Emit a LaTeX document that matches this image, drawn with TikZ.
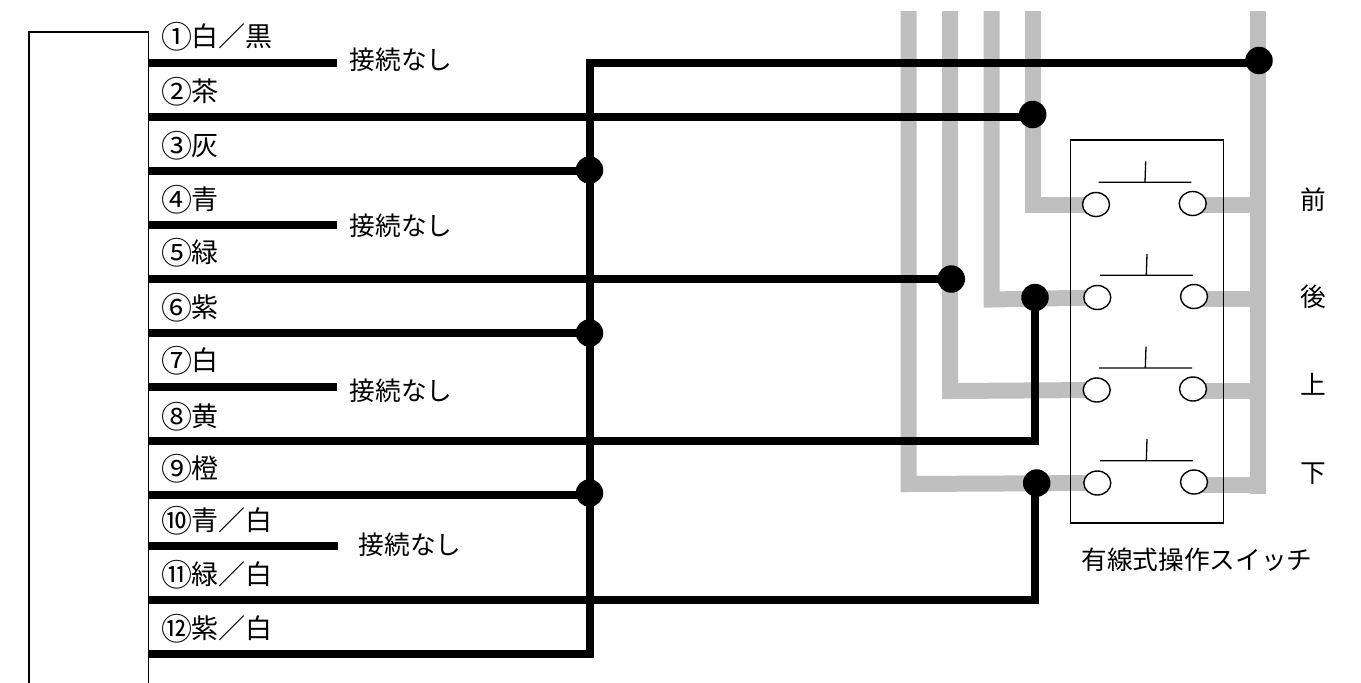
\documentclass[tikz,border=0pt]{standalone}
\usepackage{fontspec}
\setmainfont{Noto Sans CJK JP}
\definecolor{busgrey}{HTML}{BFBFBF}
\newcommand{\circnum}[1]{\makebox[29pt][c]{\raisebox{-1.8pt}{\fontsize{31}{31}\selectfont #1}}}
\tikzset{
  x=1pt,y=-1pt,
  thin frame/.style={draw=black,line width=1.3pt},
  grey wire/.style={draw=busgrey,line width=16pt,line join=miter},
  black wire/.style={draw=black,line width=8pt,line join=miter},
  junction/.style={circle,fill=black,inner sep=0pt,minimum size=27.5pt},
  terminal/.style={ellipse,draw=black,fill=white,line width=1.4pt,inner sep=0pt,minimum width=27pt,minimum height=24pt},
  contact/.style={draw=black,line width=1.3pt},
  wire label/.style={anchor=west,inner sep=0pt,font=\fontsize{27}{30}\selectfont},
  note label/.style={anchor=west,inner sep=0pt,font=\fontsize{25.7}{30}\selectfont},
}
\usetikzlibrary{shapes.geometric}
\begin{document}
\begin{tikzpicture}
\useasboundingbox (0,0) rectangle (1361,683);
% connector body (open at the bottom)
\coordinate (bodyBL) at (29,683);
\coordinate (bodyTL) at (29,32);
\coordinate (bodyTR) at (148.5,32);
\coordinate (bodyBR) at (148.5,683);
\draw[thin frame] (bodyBL) -- (bodyTL) -- (bodyTR) -- (bodyBR);
% switch terminals (positions first, drawn later)
\coordinate (aL) at (1096,204.5);   \coordinate (aR) at (1192.7,203.5);
\coordinate (bL) at (1097.3,297.5); \coordinate (bR) at (1194,296.5);
\coordinate (cL) at (1096.7,390);   \coordinate (cR) at (1193,389);
\coordinate (dL) at (1097.3,483);   \coordinate (dR) at (1194,482);
% grey buses
\coordinate (g1) at (908.5,11); \coordinate (g1c) at (908.5,484);
\coordinate (g2) at (950,11);   \coordinate (g2c) at (950,391);
\coordinate (g3) at (991.5,11); \coordinate (g3c) at (991.5,299.5);
\coordinate (g4) at (1033,11);  \coordinate (g4c) at (1033,204.5);
\coordinate (g5) at (1258,11);  \coordinate (g5b) at (1258,493.5);
\draw[grey wire] (g1) -- (g1c) -- (dL);
\draw[grey wire] (g2) -- (g2c) -- (cL);
\draw[grey wire] (g3) -- (g3c) -- (bL);
\draw[grey wire] (g4) -- (g4c) -- (aL);
\draw[grey wire] (g5) -- (g5b);
\coordinate (ra) at (1258,204.5); \coordinate (rb) at (1258,298.5);
\coordinate (rc) at (1258,391);   \coordinate (rd) at (1258,485);
\draw[grey wire] (aR |- ra) -- (ra);
\draw[grey wire] (bR |- rb) -- (rb);
\draw[grey wire] (cR |- rc) -- (rc);
\draw[grey wire] (dR |- rd) -- (rd);
% switch box
\node[thin frame,fill=none,inner sep=0pt,minimum width=152.5pt,minimum height=383pt] (swbox) at (1147,331.5) {};
% switches
\node[terminal] (ta1) at (aL) {}; \node[terminal] (ta2) at (aR) {};
\node[terminal] (tb1) at (bL) {}; \node[terminal] (tb2) at (bR) {};
\node[terminal] (tc1) at (cL) {}; \node[terminal] (tc2) at (cR) {};
\node[terminal] (td1) at (dL) {}; \node[terminal] (td2) at (dR) {};
\coordinate (ba1) at (1098.7,182.3); \coordinate (ba2) at (1191.3,182.3); \coordinate (sa1) at (1145,182.3); \coordinate (sa2) at (1145.7,161.3);
\coordinate (bb1) at (1100,275.3);   \coordinate (bb2) at (1193,275.3);   \coordinate (sb1) at (1146.3,275.3); \coordinate (sb2) at (1147,254);
\coordinate (bc1) at (1099,368);     \coordinate (bc2) at (1192,368);     \coordinate (sc1) at (1145.3,368);   \coordinate (sc2) at (1146,346.7);
\coordinate (bd1) at (1100,460.7);   \coordinate (bd2) at (1193,460.7);   \coordinate (sd1) at (1146.3,460.7); \coordinate (sd2) at (1147,439);
\draw[contact] (ba1) -- (ba2) (sa1) -- (sa2);
\draw[contact] (bb1) -- (bb2) (sb1) -- (sb2);
\draw[contact] (bc1) -- (bc2) (sc1) -- (sc2);
\draw[contact] (bd1) -- (bd2) (sd1) -- (sd2);
% junctions
\node[junction] (j1) at (1259,60.5) {};
\node[junction] (j2) at (1032.7,114.5) {};
\node[junction] (j5) at (951.3,279) {};
\node[junction] (j8) at (1035,297.5) {};
\node[junction] (j11) at (1036.7,483) {};
\node[junction] (j3) at (589.5,170) {};
\node[junction] (j6) at (589.5,333) {};
\node[junction] (j9) at (589.5,493) {};
% wire start points on the connector body
\coordinate (w1) at (148.5,62.5);  \coordinate (w2) at (148.5,116.5);
\coordinate (w3) at (148.5,170.7); \coordinate (w4) at (148.5,225);
\coordinate (w5) at (148.5,279);   \coordinate (w6) at (148.5,333);
\coordinate (w7) at (148.5,387);   \coordinate (w8) at (148.5,441);
\coordinate (w9) at (148.5,495);   \coordinate (w10) at (148.5,546);
\coordinate (w11) at (148.5,599.5);\coordinate (w12) at (148.5,653.5);
% common vertical
\coordinate (vt) at (589.5,62.5);
\coordinate (vb) at (589.5,653.5);
\coordinate (k8) at (1035,441);
\coordinate (k11) at (1035,599.5);
\coordinate (e1) at (337,62.5); \coordinate (e4) at (337,225);
\coordinate (e7) at (337,387);  \coordinate (e10) at (338,546);
% open wires
\draw[black wire] (w1) -- (e1);
\draw[black wire] (w4) -- (e4);
\draw[black wire] (w7) -- (e7);
\draw[black wire] (w10) -- (e10);
% connected wires
\draw[black wire] (w2) -- (w2 -| j2);
\draw[black wire] (w3) -- (w3 -| j3);
\draw[black wire] (w5) -- (w5 -| j5);
\draw[black wire] (w6) -- (w6 -| j6);
\draw[black wire] (w8) -- (k8) -- (j8);
\draw[black wire] (w9) -- (w9 -| j9);
\draw[black wire] (w11) -- (k11) -- (k11 |- j11);
\draw[black wire] (w12) -- (vb) -- (vt) -- (vt -| j1);
% wire labels
\node[wire label] (l1) at (162.5,37) {\circnum{①}白／黒};
\node[wire label] (l2) at (162.5,92) {\circnum{②}茶};
\node[wire label] (l3) at (162.5,146) {\circnum{③}灰};
\node[wire label] (l4) at (162.5,200) {\circnum{④}青};
\node[wire label] (l5) at (162.5,253) {\circnum{⑤}緑};
\node[wire label] (l6) at (162.5,308) {\circnum{⑥}紫};
\node[wire label] (l7) at (162.5,361) {\circnum{⑦}白};
\node[wire label] (l8) at (162.5,417) {\circnum{⑧}黄};
\node[wire label] (l9) at (162.5,469) {\circnum{⑨}橙};
\node[wire label] (l10) at (162.5,521) {\circnum{⑩}青／白};
\node[wire label] (l11) at (162.5,575) {\circnum{⑪}緑／白};
\node[wire label] (l12) at (162.5,629) {\circnum{⑫}紫／白};
% not-connected labels
\node[note label] (n1) at (349.5,60) {接続なし};
\node[note label] (n2) at (349.5,226) {接続なし};
\node[note label] (n3) at (349.5,391) {接続なし};
\node[note label] (n4) at (358.5,545) {接続なし};
% direction labels
\node[note label,anchor=center] (d1) at (1313,200) {前};
\node[note label,anchor=center] (d2) at (1313,297) {後};
\node[note label,anchor=center] (d3) at (1313,384) {上};
\node[note label,anchor=center] (d4) at (1313,474) {下};
\node[note label,anchor=center] (cap) at (1197,560) {有線式操作スイッチ};
\end{tikzpicture}
\end{document}
